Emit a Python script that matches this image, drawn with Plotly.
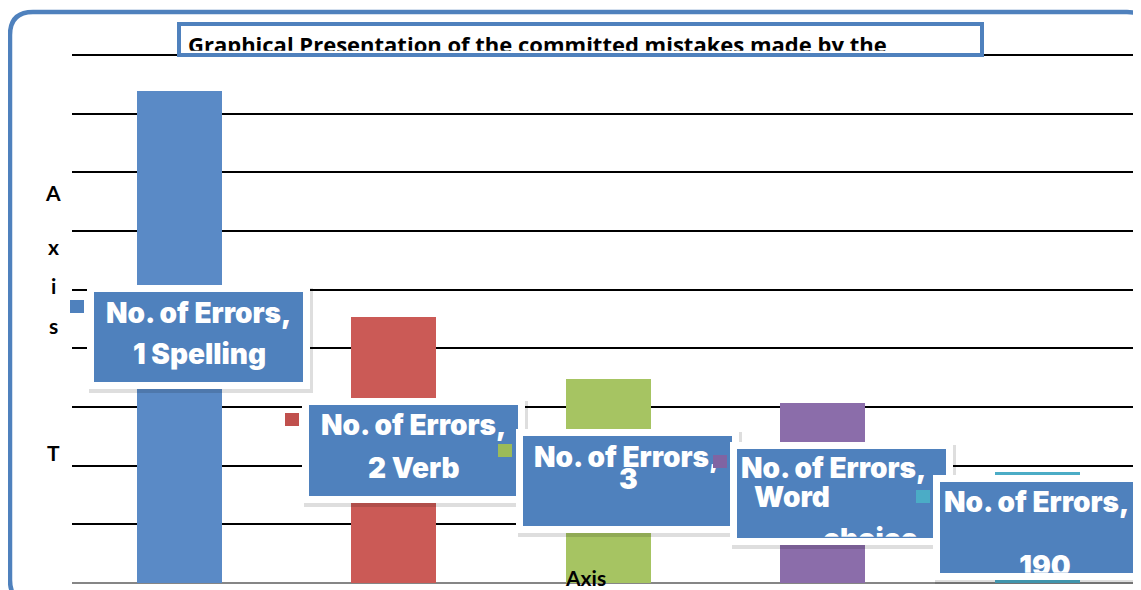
import plotly.graph_objects as go

# ---------------- data ----------------
categories = ["1 Spelling", "2 Verb", "3", "Word choice", "5"]
values = [839, 453, 348, 307, 190]
bar_colors = ["#5A8AC6", "#CB5A56", "#A6C462", "#8B6DAA", "#4BACC6"]
key_colors = ["#4F81BD", "#C0504D", "#9BBB59", "#8064A2", "#4BACC6"]
label_lines = [
    ["No. of Errors,", "1 Spelling"],
    ["No. of Errors,", "2 Verb"],
    ["No. of Errors,", "3"],
    ["No. of Errors,", "Word", "choice"],
    ["No. of Errors,", "190"],
]
title_text = "Graphical Presentation of the committed mistakes made by the"
y_title_letters = ["A", "x", "i", "s", "T"]
x_title = "Axis"
y_max = 900
y_step = 100

# ---------------- geometry helpers ----------------
# the page body has an 8px margin, so the figure is drawn 8px right/down
OFF = 8
W, H = 1141 - OFF, 590 - OFF
L, R, T, B = 72, 1141, 52, 583          # plot area in page pixels
Y_TOP = y_max * (B - T) / 528.0         # 900 sits at page y = 55


def fx(px):
    return (px - L) / (R - L)


def fy(py):
    return (B - py) / (B - T)


fig = go.Figure()
fig.add_trace(go.Bar(
    x=list(range(len(values))), y=values,
    marker=dict(color=bar_colors, line=dict(width=0)),
    width=0.396, hoverinfo="skip", showlegend=False,
))

shapes = []
annotations = []

# outer rounded frame
fl, ft, fr, fb, rr = 10, 12, 1150, 603, 23
pts = [
    ("M", fl, fb - rr), ("L", fl, ft + rr), ("Q", fl, ft, fl + rr, ft),
    ("L", fr - rr, ft), ("Q", fr, ft, fr, ft + rr), ("L", fr, fb - rr),
    ("Q", fr, fb, fr - rr, fb), ("L", fl + rr, fb), ("Q", fl, fb, fl, fb - rr),
]
path = ""
for p in pts:
    if p[0] == "Q":
        path += f"Q{fx(p[1]):.5f},{fy(p[2]):.5f} {fx(p[3]):.5f},{fy(p[4]):.5f} "
    else:
        path += f"{p[0]}{fx(p[1]):.5f},{fy(p[2]):.5f} "
path += "Z"
shapes.append(dict(type="path", xref="paper", yref="paper", path=path,
                   line=dict(color="#4F81BD", width=4.5), fillcolor="rgba(0,0,0,0)",
                   layer="above"))

# title box
shapes.append(dict(type="rect", xref="paper", yref="paper",
                   x0=fx(179), x1=fx(982), y0=fy(24), y1=fy(55),
                   line=dict(color="#4F81BD", width=4), fillcolor="white", layer="above"))
TS = 22
t_top = 37 - (1.069 - 0.714) * TS
annotations.append(dict(
    xref="paper", yref="paper", x=fx(188), y=fy(t_top), xanchor="left",
    yanchor="top", text="<b>" + title_text + "</b>", showarrow=False, align="left",
    valign="top", width=785, height=51 - t_top,
    borderpad=0, borderwidth=0,
    font=dict(family="Open Sans", size=TS, color="black"),
))

# y axis title letters
for letter, yc in zip(y_title_letters, [192, 247, 285, 325, 452]):
    annotations.append(dict(
        xref="paper", yref="paper", x=fx(53), y=fy(yc), xanchor="center", yanchor="middle",
        text="<b>" + letter + "</b>", showarrow=False, borderpad=0, borderwidth=0,
        font=dict(family="Lato", size=21, color="black"),
    ))

# x axis title
annotations.append(dict(
    xref="paper", yref="paper", x=fx(585), y=fy(564.5), xanchor="center", yanchor="top",
    text="<b>" + x_title + "</b>", showarrow=False, borderpad=0, borderwidth=0,
    font=dict(family="Lato", size=21, color="black"),
))

# data label boxes
boxes = [
    (87, 285, 223, 104),
    (302, 398, 223, 105),
    (516, 429, 223, 104),
    (730, 442, 223, 103),
    (933, 475, 223, 105),
]
keys = [(70, 300), (285, 413), (498, 444), (713, 455), (916, 490)]
bw = 7
LS = 28
ASC, CAP, XH = 0.969, 0.727, 0.546
lab_font = dict(family="Inter", size=LS, color="white", weight=900)
# per-line placement: (x, anchor, reference y, kind, clip bottom)
line_pos = [
    [(199, "center", 323, "base", None), (199, "center", 364, "base", None)],
    [(413.5, "center", 435, "base", None), (413.5, "center", 478, "base", None)],
    [(627, "center", 467, "base", None), (628, "center", 489, "base", None)],
    [(741, "left", 478, "base", None), (754, "left", 507, "base", None),
     (823, "left", 534, "xtop", 537)],
    [(944, "left", 512, "base", None), (1045, "center", 556, "captop", 573)],
]

for i in range(len(values)):
    bx, by, bwid, bh = boxes[i]
    # shadow
    shapes.append(dict(type="rect", xref="paper", yref="paper",
                       x0=fx(bx + 2), x1=fx(bx + bwid + 3), y0=fy(by + 3), y1=fy(by + bh + 4),
                       line=dict(width=0), fillcolor="rgba(0,0,0,0.13)", layer="above"))
    # legend key
    kx, ky = keys[i]
    annotations.append(dict(
        xref="paper", yref="paper", x=fx(kx), y=fy(ky), xanchor="left", yanchor="top",
        text=" ", showarrow=False, width=14, height=13, borderpad=0, borderwidth=0,
        bgcolor=key_colors[i], font=dict(size=4),
    ))
    # box
    annotations.append(dict(
        xref="paper", yref="paper", x=fx(bx), y=fy(by), xanchor="left", yanchor="top",
        text=" ", showarrow=False, width=bwid - 2 * bw, height=bh - 2 * bw,
        borderpad=0, borderwidth=bw, bordercolor="white", bgcolor="#4F81BD",
        font=dict(size=4),
    ))
    for txt, (lx, anc, ry, kind, clipb) in zip(label_lines[i], line_pos[i]):
        if kind == "base":
            top = ry - ASC * LS
        elif kind == "xtop":
            top = ry - (ASC - XH) * LS
        else:
            top = ry - (ASC - CAP) * LS
        a = dict(
            xref="paper", yref="paper", x=fx(lx), y=fy(top), xanchor=anc, yanchor="top",
            text=txt, showarrow=False, borderpad=0, borderwidth=0,
            font=lab_font, align=anc, valign="top",
        )
        if clipb is not None:
            a["height"] = clipb - top
            a["width"] = 120 if anc == "left" else 76
        annotations.append(a)

fig.update_layout(
    width=W, height=H,
    margin=dict(l=L - OFF, r=0, t=T - OFF, b=H - (B - OFF), pad=0),
    paper_bgcolor="white", plot_bgcolor="white",
    xaxis=dict(range=[-0.5, 4.4825], showticklabels=False, showgrid=False,
               zeroline=False, showline=False, ticks=""),
    yaxis=dict(range=[0, Y_TOP], dtick=y_step, tick0=0, showticklabels=False,
               showgrid=True, gridcolor="black", gridwidth=2, zeroline=True,
               zerolinecolor="#868686", zerolinewidth=2, showline=False, ticks=""),
    shapes=shapes, annotations=annotations, showlegend=False,
    bargap=0,
)

fig.write_html("out.html")
